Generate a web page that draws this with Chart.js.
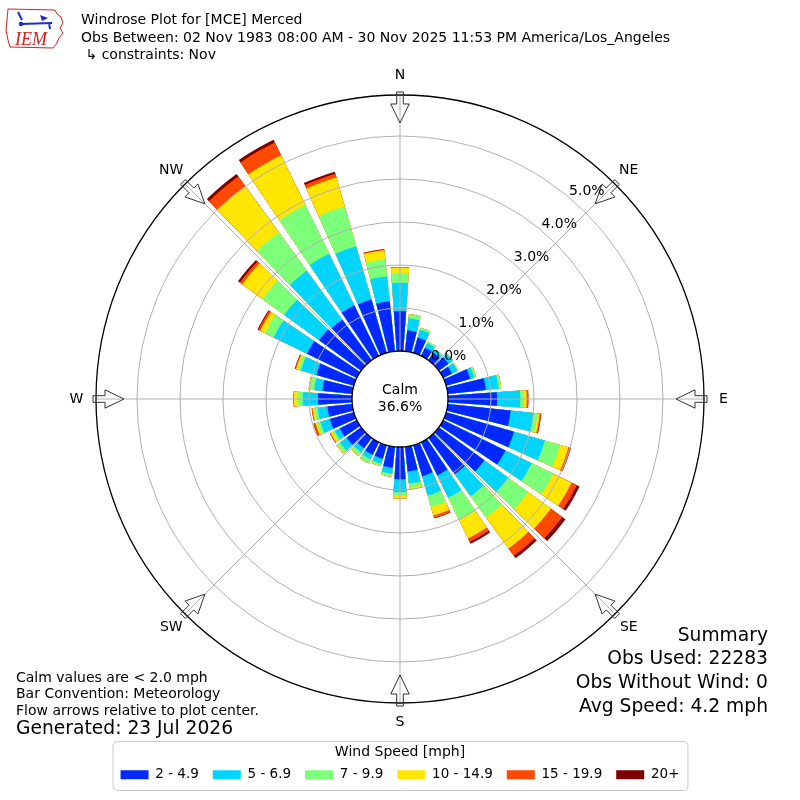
<!DOCTYPE html>
<html>
<head>
<meta charset="utf-8">
<title>Windrose Plot for [MCE] Merced</title>
<script src="https://cdn.jsdelivr.net/npm/chart.js@4.4.1/dist/chart.umd.min.js"></script>
<style>
  html, body { margin: 0; padding: 0; background: #fff; }
  #wrap { position: relative; width: 800px; height: 800px; font-family: "DejaVu Sans", sans-serif; color: #000; }
  #rose { position: absolute; left: 0; top: 0; }
  .txt { position: absolute; white-space: pre; line-height: 1; }
  .hdr { left: 81px; font-size: 14px; }
  .foot { left: 16px; font-size: 14px; }
  .big { font-size: 18.7px; }
  .sum { right: 32px; font-size: 18.7px; text-align: right; }
</style>
</head>
<body>
<div id="wrap">
  <canvas id="rose" width="800" height="800"></canvas>
  <div class="txt hdr" style="top:12px;">Windrose Plot for [MCE] Merced</div>
  <div class="txt hdr" style="top:30px;">Obs Between: 02 Nov 1983 08:00 AM - 30 Nov 2025 11:53 PM America/Los_Angeles</div>
  <div class="txt hdr" style="top:47px;"> ↳ constraints: Nov</div>

  <div class="txt sum" style="top:625.6px;">Summary</div>
  <div class="txt sum" style="top:648.6px;">Obs Used: 22283</div>
  <div class="txt sum" style="top:672.6px;">Obs Without Wind: 0</div>
  <div class="txt sum" style="top:696.6px;">Avg Speed: 4.2 mph</div>

  <div class="txt foot" style="top:670px;">Calm values are &lt; 2.0 mph</div>
  <div class="txt foot" style="top:686px;">Bar Convention: Meteorology</div>
  <div class="txt foot" style="top:703px;">Flow arrows relative to plot center.</div>
  <div class="txt foot big" style="top:718.6px;">Generated: 23 Jul 2026</div>
</div>
<script>
// wind direction bins (degrees, direction wind blows from)
const directions = [0, 10, 20, 30, 40, 50, 60, 70, 80, 90, 100, 110,
                    120, 130, 140, 150, 160, 170, 180, 190, 200, 210, 220, 230,
                    240, 250, 260, 270, 280, 290, 300, 310, 320, 330, 340, 350];

const speedBins = ['2 - 4.9', '5 - 6.9', '7 - 9.9', '10 - 14.9', '15 - 19.9', '20+'];
const binColors = ['#0028ff', '#00d4ff', '#7cff79', '#ffe600', '#ff4800', '#7f0000'];

// frequency (%) per direction, one list per speed bin
const speed2to5   = [0.93, 0.49, 0.37, 0.21, 0.21, 0.28, 0.23, 0.58, 0.89, 1.14, 1.47, 1.64,
                     1.61, 1.31, 1.05, 0.86, 0.75, 0.58, 0.75, 0.49, 0.33, 0.33, 0.30, 0.42,
                     0.44, 0.58, 0.58, 0.79, 0.70, 0.91, 1.29, 1.21, 1.17, 1.31, 1.29, 1.17];
const speed5to7   = [0.66, 0.28, 0.19, 0.12, 0.07, 0.12, 0.14, 0.10, 0.30, 0.54, 0.54, 0.75,
                     0.68, 0.68, 0.63, 0.58, 0.47, 0.28, 0.30, 0.14, 0.12, 0.11, 0.12, 0.19,
                     0.13, 0.23, 0.23, 0.35, 0.19, 0.37, 0.86, 1.00, 1.40, 1.33, 1.29, 0.58];
const speed7to10  = [0.23, 0.09, 0.05, 0.04, 0.02, 0.01, 0.02, 0.04, 0.05, 0.09, 0.09, 0.37,
                     0.56, 0.58, 0.61, 0.58, 0.28, 0.09, 0.08, 0.05, 0.05, 0.10, 0.08, 0.07,
                     0.05, 0.07, 0.08, 0.12, 0.09, 0.07, 0.23, 0.63, 1.10, 1.26, 0.96, 0.40];
const speed10to15 = [0.12, 0.01, 0.00, 0.00, 0.00, 0.00, 0.00, 0.01, 0.01, 0.06, 0.05, 0.20,
                     0.47, 0.65, 0.89, 0.47, 0.20, 0.05, 0.07, 0.02, 0.01, 0.01, 0.02, 0.03,
                     0.06, 0.05, 0.04, 0.09, 0.04, 0.05, 0.12, 0.58, 1.33, 1.29, 0.70, 0.21];
const speed15to20 = [0.01, 0.00, 0.00, 0.00, 0.00, 0.00, 0.00, 0.00, 0.00, 0.04, 0.03, 0.05,
                     0.14, 0.33, 0.21, 0.09, 0.06, 0.00, 0.00, 0.00, 0.00, 0.00, 0.00, 0.00,
                     0.02, 0.04, 0.02, 0.01, 0.00, 0.02, 0.05, 0.07, 0.28, 0.33, 0.09, 0.02];
const speed20plus = [0.00, 0.00, 0.00, 0.00, 0.00, 0.00, 0.00, 0.00, 0.00, 0.00, 0.01, 0.01,
                     0.07, 0.09, 0.07, 0.05, 0.01, 0.00, 0.00, 0.00, 0.00, 0.00, 0.00, 0.00,
                     0.00, 0.01, 0.00, 0.00, 0.00, 0.01, 0.02, 0.05, 0.07, 0.07, 0.05, 0.01];

const calmPct = 36.6;
const ringValues = [0, 1, 2, 3, 4, 5];
const compassPoints = ['N', 'NE', 'E', 'SE', 'S', 'SW', 'W', 'NW'];

// axis: 0% sits on the calm circle, outer circle a bit past 5%
const axisMin = -1.116;
const axisMax = 5.953;
const barAngle = 8, gapAngle = 2;   // degrees per direction slot (bar + gap = 10)
const legendTitlePad = 42;

Chart.defaults.font.family = "'DejaVu Sans', sans-serif";
Chart.defaults.color = '#000';

const speedSeries = [speed2to5, speed5to7, speed7to10, speed10to15, speed15to20, speed20plus];

// each bin is drawn as the cumulative total up to that bin, smaller totals on top
const datasets = speedBins.map(function(label, k) {
    const data = [];
    directions.forEach(function(dir, i) {
        let cum = 0;
        for (let j = 0; j <= k; j++) cum += speedSeries[j][i];
        data.push(cum, 0);
    });
    return {
        label: label,
        data: data,
        backgroundColor: c => c.dataIndex % 2 ? 'rgba(0,0,0,0)' : binColors[k],
        borderWidth: 0,
        angle: c => c.dataIndex % 2 ? gapAngle : barAngle
    };
});
const labels = [];
directions.forEach(d => labels.push(d + '°', ''));

function drawLogo(ctx) {
    ctx.save();
    // state outline
    ctx.strokeStyle = '#d42020';
    ctx.lineWidth = 1;
    ctx.beginPath();
    ctx.moveTo(8, 9); ctx.lineTo(55, 10); ctx.lineTo(57, 14); ctx.lineTo(61, 17);
    ctx.lineTo(63, 23); ctx.lineTo(60, 28); ctx.lineTo(63, 33); ctx.lineTo(59, 38);
    ctx.lineTo(57, 43); ctx.lineTo(53, 48); ctx.lineTo(10, 47); ctx.lineTo(8, 40);
    ctx.lineTo(6, 30); ctx.lineTo(7, 20); ctx.closePath();
    ctx.stroke();
    // wind symbol
    ctx.strokeStyle = '#1a2fc0';
    ctx.fillStyle = '#1a2fc0';
    ctx.lineWidth = 2;
    ctx.beginPath();
    ctx.moveTo(21, 24); ctx.lineTo(52, 23);
    ctx.moveTo(18, 12); ctx.lineTo(22, 20);
    ctx.moveTo(49, 23); ctx.lineTo(50, 29);
    ctx.stroke();
    ctx.beginPath();
    ctx.moveTo(40, 15); ctx.lineTo(48, 18); ctx.lineTo(42, 21); ctx.closePath();
    ctx.fill();
    ctx.beginPath(); ctx.arc(21, 24, 2.2, 0, 2 * Math.PI); ctx.fill();
    // letters
    ctx.fillStyle = '#d42020';
    ctx.font = "italic 18px 'Liberation Serif', serif";
    ctx.textAlign = 'left';
    ctx.textBaseline = 'alphabetic';
    ctx.fillText('IEM', 15, 45);
    ctx.restore();
}

const roseDecor = {
    id: 'roseDecor',
    afterDatasetsDraw(chart) {
        const r = chart.scales.r, ctx = chart.ctx;
        const cx = r.xCenter, cy = r.yCenter;
        const outer = r.getDistanceFromCenterForValue(axisMax);
        const calm = r.getDistanceFromCenterForValue(0);
        ctx.save();
        ctx.strokeStyle = '#b0b0b0';
        ctx.lineWidth = 1;
        compassPoints.forEach(function(name, i) {
            const a = (i * 45 - 90) * Math.PI / 180;
            ctx.beginPath();
            ctx.moveTo(cx + calm * Math.cos(a), cy + calm * Math.sin(a));
            ctx.lineTo(cx + outer * Math.cos(a), cy + outer * Math.sin(a));
            ctx.stroke();
        });
        ctx.beginPath();
        ctx.arc(cx, cy, calm, 0, 2 * Math.PI);
        ctx.fillStyle = '#fff';
        ctx.fill();
        ctx.restore();
    },
    afterDraw(chart) {
        const r = chart.scales.r, ctx = chart.ctx;
        const cx = r.xCenter, cy = r.yCenter;
        const outer = r.getDistanceFromCenterForValue(axisMax);
        ctx.save();

        // flow arrows + compass labels
        compassPoints.forEach(function(name, i) {
            const a = (i * 45 - 90) * Math.PI / 180;
            const ux = Math.cos(a), uy = Math.sin(a);
            const px = -uy, py = ux;
            const pt = (d, w) => [cx + ux * d + px * w, cy + uy * d + py * w];
            const tail = outer + 3, neck = outer - 9, tip = outer - 28;
            const pts = [pt(tail, -3.3), pt(neck, -3.3), pt(neck, -9.2), pt(tip, 0),
                         pt(neck, 9.2), pt(neck, 3.3), pt(tail, 3.3)];
            ctx.beginPath();
            pts.forEach((p, j) => j ? ctx.lineTo(p[0], p[1]) : ctx.moveTo(p[0], p[1]));
            ctx.closePath();
            ctx.strokeStyle = '#333';
            ctx.lineWidth = 1;
            ctx.stroke();

            ctx.fillStyle = '#000';
            ctx.font = "14px 'DejaVu Sans'";
            ctx.textAlign = 'center';
            ctx.textBaseline = 'middle';
            const lp = pt(outer + 19.5, 0);
            ctx.fillText(name, lp[0], lp[1]);
        });

        // ring labels
        const la = 40 * Math.PI / 180;
        ctx.font = "14px 'DejaVu Sans'";
        ctx.textAlign = 'left';
        ctx.textBaseline = 'bottom';
        ctx.fillStyle = '#000';
        ringValues.forEach(function(v) {
            const d = r.getDistanceFromCenterForValue(v);
            ctx.fillText(v.toFixed(1) + '%', cx + d * Math.sin(la), cy - d * Math.cos(la) + 1);
        });

        // calm text
        ctx.textAlign = 'center';
        ctx.textBaseline = 'middle';
        ctx.fillText('Calm', cx, cy - 8.3);
        ctx.fillText(calmPct.toFixed(1) + '%', cx, cy + 8.3);

        // legend frame
        const lg = chart.legend;
        if (lg && lg.legendHitBoxes && lg.legendHitBoxes.length) {
            const hb = lg.legendHitBoxes;
            const first = hb[0], last = hb[hb.length - 1];
            const half = Math.max(cx - first.left, last.left + last.width - cx) + 8;
            const x0 = cx - half, x1 = cx + half;
            const y0 = lg.top + legendTitlePad - 4, y1 = lg.bottom - 1.5;
            ctx.beginPath();
            ctx.roundRect(x0 + 0.5, y0 + 0.5, x1 - x0, y1 - y0, 4);
            ctx.strokeStyle = '#cccccc';
            ctx.lineWidth = 1;
            ctx.stroke();
        }

        drawLogo(ctx);
        ctx.restore();
    }
};

new Chart(document.getElementById('rose'), {
    type: 'polarArea',
    data: { labels: labels, datasets: datasets },
    options: {
        responsive: false,
        animation: false,
        events: [],
        layout: { padding: { top: 95, left: 96, right: 96, bottom: 8.5 } },
        scales: {
            r: {
                min: axisMin,
                max: axisMax,
                startAngle: -barAngle / 2,
                afterBuildTicks: function(scale) {
                    scale.ticks = ringValues.concat([axisMax]).map(v => ({ value: v }));
                },
                ticks: { display: false },
                pointLabels: { display: false },
                angleLines: { display: false },
                border: { display: false },
                grid: {
                    z: 1,
                    circular: true,
                    color: c => (c.tick && (c.tick.value === 0 || c.tick.value === axisMax)) ? '#000' : '#b0b0b0',
                    lineWidth: c => (c.tick && (c.tick.value === 0 || c.tick.value === axisMax)) ? 1.3 : 1
                }
            }
        },
        plugins: {
            tooltip: { enabled: false },
            legend: {
                position: 'bottom',
                title: {
                    display: true,
                    text: 'Wind Speed [mph]',
                    color: '#000',
                    font: { size: 14, lineHeight: 1 },
                    padding: { top: legendTitlePad, bottom: -5 }
                },
                labels: {
                    boxWidth: 28,
                    boxHeight: 9,
                    padding: 14,
                    color: '#000',
                    font: { size: 13.5 },
                    generateLabels: chart => chart.data.datasets.map((ds, i) => ({
                        text: ds.label,
                        fillStyle: binColors[i],
                        strokeStyle: binColors[i],
                        lineWidth: 0,
                        hidden: false,
                        datasetIndex: i
                    }))
                }
            }
        }
    },
    plugins: [roseDecor]
});
</script>
</body>
</html>
